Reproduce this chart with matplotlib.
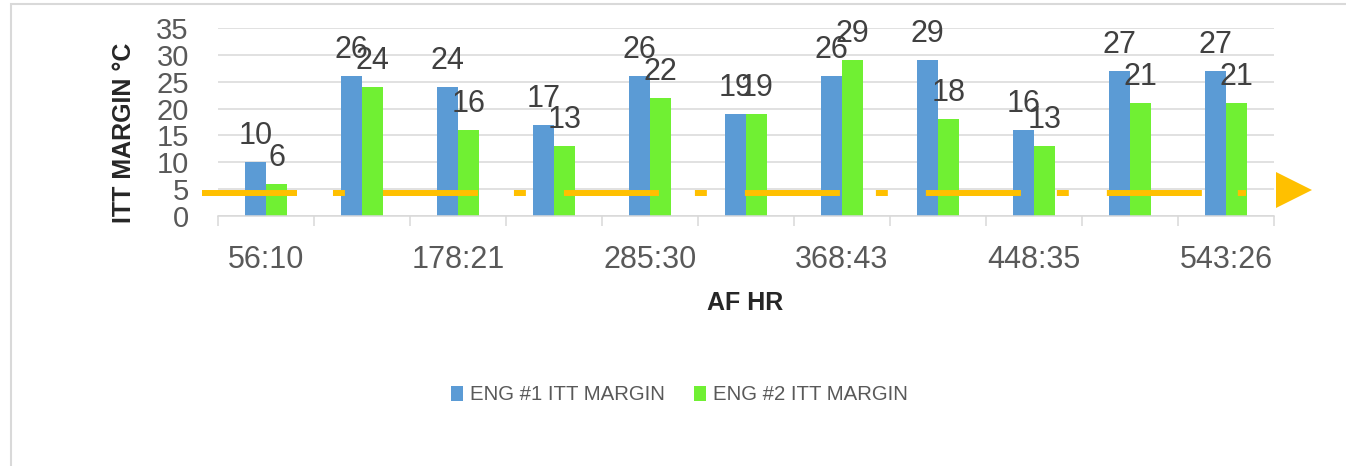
import matplotlib
matplotlib.use("Agg")
import matplotlib.pyplot as plt
import numpy as np
from matplotlib.patches import Rectangle

# data
x_labels = ["56:10", "", "178:21", "", "285:30", "", "368:43", "", "448:35", "", "543:26"]
eng1_margin = [10, 26, 24, 17, 26, 19, 26, 29, 16, 27, 27]
eng2_margin = [6, 24, 16, 13, 22, 19, 29, 18, 13, 21, 21]
limit_value = 4.3
limit_start, limit_end = -0.67, 10.21
arrow_x, arrow_y = 10.71, 4.85

BLUE = "#5B9BD5"
GREEN = "#70F033"
ORANGE = "#FFC000"
GRID = "#D9D9D9"

plt.rcParams["font.family"] = ["Liberation Sans", "DejaVu Sans"]
plt.rcParams["lines.scale_dashes"] = False

fig = plt.figure(figsize=(13.46, 4.66), dpi=100)
ax = fig.add_axes([218 / 1346, 1 - 216 / 466, 1056 / 1346, 188 / 466])

x = np.arange(len(eng1_margin))
w = 0.22
b1 = ax.bar(x - w / 2, eng1_margin, w, color=BLUE, label="ENG #1 ITT MARGIN", zorder=2)
b2 = ax.bar(x + w / 2, eng2_margin, w, color=GREEN, label="ENG #2 ITT MARGIN", zorder=2)

for bars in (b1, b2):
    for r in bars:
        ax.annotate("{:d}".format(int(r.get_height())),
                    (r.get_x() + r.get_width() / 2, r.get_height()),
                    xytext=(0, 13), textcoords="offset points",
                    ha="center", va="baseline", fontsize=22, color="#404040", zorder=4)

# dashed limit line (long dash, short dash) and arrow head
ax.plot([limit_start, limit_end], [limit_value, limit_value], color=ORANGE, lw=4.3,
        dashes=(68.4, 25.9, 8.6, 27.4), solid_capstyle="butt", dash_capstyle="butt",
        clip_on=False, zorder=3)
ax.plot([arrow_x], [arrow_y], marker=">", ms=26, color=ORANGE, mew=0, clip_on=False, zorder=3)

ax.set_xlim(-0.5, len(x) - 0.5)
ax.set_ylim(0, 35)
ax.set_yticks(np.arange(0, 36, 5))
ax.yaxis.grid(True, color=GRID, lw=1.1, zorder=0)
ax.set_axisbelow(True)
for s in ["top", "right", "left"]:
    ax.spines[s].set_visible(False)
ax.spines["bottom"].set_color(GRID)
ax.spines["bottom"].set_linewidth(1.1)
ax.tick_params(axis="y", length=0, pad=21, labelsize=21, labelcolor="#595959")

ax.set_xticks(np.arange(-0.5, len(x), 1.0))
ax.set_xticklabels([])
ax.tick_params(axis="x", which="major", length=7.2, width=1.1, color=GRID)
ax.set_xticks(x, minor=True)
ax.set_xticklabels(x_labels, minor=True)
ax.tick_params(axis="x", which="minor", length=0, pad=21, labelsize=22, labelcolor="#595959")

ax.set_ylabel("ITT MARGIN °C", fontsize=18, fontweight="bold", color="#262626")
ax.yaxis.set_label_coords(-0.078, 0.44)
ax.set_xlabel("AF HR", fontsize=18, fontweight="bold", color="#262626")
ax.xaxis.set_label_coords(0.499, -0.40)

leg = fig.legend(handles=[b1, b2], loc="center", bbox_to_anchor=(0.5045, 1 - 395 / 466), ncol=2,
                 frameon=False, handlelength=0.59, handleheight=0.73, handletextpad=0.34,
                 columnspacing=1.42, fontsize=14.7)
for t in leg.get_texts():
    t.set_color("#595959")

# chart border (only top and left edges visible)
fig.add_artist(Rectangle((11 / 1346, -0.1), 1.1, 1.1 - 4 / 466, transform=fig.transFigure,
                         fill=False, edgecolor=GRID, lw=1.5))

fig.savefig("out.png", dpi=100)
